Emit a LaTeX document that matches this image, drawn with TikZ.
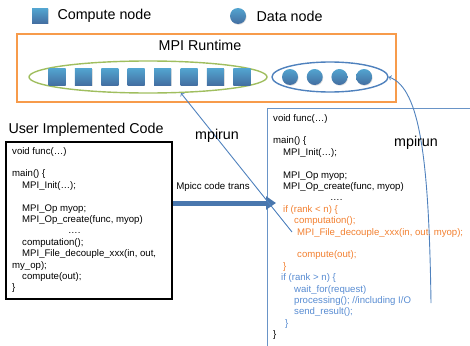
\documentclass[tikz,border=0pt]{standalone}
\usepackage{fontspec}
\setmainfont{Liberation Sans}
\usetikzlibrary{positioning, calc, shapes, arrows, arrows.meta, shadows}

\definecolor{mpiblue}{RGB}{79,129,189}
\definecolor{mpiorange}{RGB}{247,155,75}
\definecolor{mpigreen}{RGB}{160,190,95}
\definecolor{codeorange}{RGB}{242,128,48}
\definecolor{codeblue}{RGB}{88,140,210}

\tikzset{
  bigfont/.style={font=\fontsize{14.3}{16}\selectfont},
  codefont/.style={font=\fontsize{9.6}{11.4}\selectfont, align=left, inner sep=0pt},
  cnode/.style={rectangle, minimum width=17pt, minimum height=17pt, inner sep=0pt,
    top color=mpiblue!80!cyan!90!white, bottom color=mpiblue!85!black,
    drop shadow={shadow xshift=0.6pt, shadow yshift=-0.8pt, opacity=0.25}},
  dnode/.style={circle, minimum size=16pt, inner sep=0pt,
    top color=mpiblue!80!cyan!90!white, bottom color=mpiblue!85!black,
    drop shadow={shadow xshift=0.6pt, shadow yshift=-0.8pt, opacity=0.25}},
  grp/.style={ellipse, draw, line width=1.4pt, inner sep=0pt},
  runarrow/.style={->, >=to, draw=mpiblue, line width=0.9pt},
  bigarrow/.style={-{Triangle[length=10pt, width=13pt]}, line width=5pt, draw=mpiblue!92!black},
}

\begin{document}
\begin{tikzpicture}[x=1pt, y=-1pt]
  \useasboundingbox (0,0) rectangle (470,345);

  % legend
  \node[cnode, minimum width=16pt, minimum height=15pt] (lcomp) at (40,16) {};
  \node[bigfont, anchor=west] (lcomptxt) at (54,16) {Compute node};
  \node[dnode] (ldata) at (238,16) {};
  \node[bigfont, anchor=west] (ldatatxt) at (253,16) {Data node};

  % runtime
  \node[draw=mpiorange, line width=1.7pt, rectangle, minimum width=379pt, minimum height=68pt,
    anchor=north west] (runtime) at (16,33) {};
  \node[bigfont] (runtimetxt) at (200,45) {MPI Runtime};
  \node[grp, draw=mpigreen, minimum width=238pt, minimum height=32pt] (computegrp) at (148,77) {};
  \node[grp, draw=mpiblue, minimum width=116pt, minimum height=30pt] (datagrp) at (330,77) {};
  \foreach \i in {0,...,7}
    \node[cnode] (c\i) at (57+26.4*\i,77) {};
  \foreach \i in {0,...,3}
    \node[dnode] (d\i) at (290+24.7*\i,77) {};

  % user code
  \node[bigfont] (usertxt) at (86,130) {User Implemented Code};
  \node[draw, line width=1.7pt, rectangle, minimum width=166pt, minimum height=157pt,
    anchor=north west] (ubox) at (5,141) {};
  \node[codefont, anchor=north west] (ucode) at (12,147) {%
    void func(…)\\
    \mbox{}\\
    main() \{\\
    \hspace*{10pt}MPI\_Init(…);\\
    \mbox{}\\
    \hspace*{10pt}MPI\_Op myop;\\
    \hspace*{10pt}MPI\_Op\_create(func, myop)\\
    \hspace*{56pt}….\\
    \hspace*{10pt}computation();\\
    \hspace*{10pt}MPI\_File\_decouple\_xxx(in, out,\\
    my\_op);\\
    \hspace*{10pt}compute(out);\\
    \}};

  % transformed code
  \coordinate (tcorner) at (267,108);
  \draw[mpiblue!85, line width=1pt] (tcorner -| 475,0) -- (tcorner) -- (tcorner |- 0,350);
  \node[codefont, anchor=north west] (tcode) at (273,114) {%
    void func(…)\\
    \mbox{}\\
    main() \{\\
    \hspace*{10pt}MPI\_Init(…);\\
    \mbox{}\\
    \hspace*{10pt}MPI\_Op myop;\\
    \hspace*{10pt}MPI\_Op\_create(func, myop)\\
    \hspace*{57pt}….\\
    \hspace*{10pt}\textcolor{codeorange}{if (rank < n) \{}\\
    \hspace*{21pt}\textcolor{codeorange}{computation();}\\
    \hspace*{24pt}\textcolor{codeorange}{MPI\_File\_decouple\_xxx(in, out, myop);}\\
    \mbox{}\\
    \hspace*{24pt}\textcolor{codeorange}{compute(out);}\\
    \hspace*{10pt}\textcolor{codeorange}{\}}\\
    \hspace*{8pt}\textcolor{codeblue}{if (rank > n) \{}\\
    \hspace*{21pt}\textcolor{codeblue}{wait\_for(request)}\\
    \hspace*{21pt}\textcolor{codeblue}{processing(); //including I/O}\\
    \hspace*{21pt}\textcolor{codeblue}{send\_result();}\\
    \hspace*{12pt}\textcolor{codeblue}{\}}\\
    \}};

  % code translation
  \coordinate (tin) at (276,203);
  \draw[bigarrow] (ubox.east |- tin) -- (tin);
  \node[font=\fontsize{9.7}{11}\selectfont] (transtxt) at (213,187) {Mpicc code trans};

  % mpirun
  \coordinate (m1) at (292,232);
  \coordinate (m2) at (431,303);
  \draw[runarrow] (m1) -- (computegrp.-26);
  \draw[runarrow] (m2) .. controls (429,165) and (421,88) .. (datagrp.east);
  \node[bigfont] (run1txt) at (217,136) {mpirun};
  \node[bigfont] (run2txt) at (416,143) {mpirun};
\end{tikzpicture}
\end{document}
